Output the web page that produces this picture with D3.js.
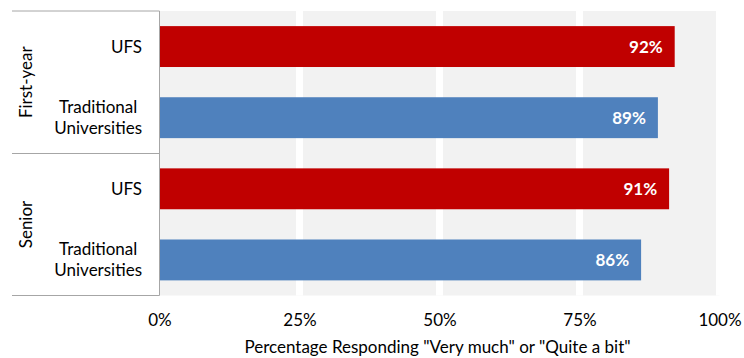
<!DOCTYPE html>
<html>
<head>
<meta charset="utf-8">
<script src="https://cdn.jsdelivr.net/npm/d3@7"></script>
<style>
  html, body { margin: 0; padding: 0; background: #fff; }
  svg { display: block; font-family: Lato, "Open Sans", sans-serif; }
</style>
</head>
<body>
<svg id="chart" width="744" height="358"></svg>
<script>
// ---- data ----
const groups = ["First-year", "Senior"];
const categories = ["UFS", "Traditional Universities"];
const rowKeys = ["First-year|UFS", "First-year|Traditional Universities", "Senior|UFS", "Senior|Traditional Universities"];
const values = [0.92, 0.89, 0.91, 0.86];
const valueLabels = ["92%", "89%", "91%", "86%"];
const tickValues = [0, 0.25, 0.5, 0.75, 1];
const tickLabels = ["0%", "25%", "50%", "75%", "100%"];
const axisTitle = 'Percentage Responding "Very much" or "Quite a bit"';
const colors = { "UFS": "#c00000", "Traditional Universities": "#4f81bd" };

// ---- layout ----
const FS = "17px";
const svg = d3.select("#chart");
const plotTop = 11, plotBottom = 295.5;
const x0 = 159.5, x1 = 719.5;
const tableLeft = 12;

const x = d3.scaleLinear().domain([0, 1]).range([x0, x1]);
const y = d3.scaleBand().domain(rowKeys).range([plotTop, plotBottom]).paddingInner(0.425).paddingOuter(0.2125);

// background
svg.append("rect")
  .attr("x", x0).attr("y", plotTop)
  .attr("width", x(1) - x0).attr("height", plotBottom - plotTop)
  .attr("fill", "#f2f2f2");

// gridlines (white, wide)
svg.append("g").selectAll("rect")
  .data(tickValues.filter(d => d > 0))
  .join("rect")
  .attr("x", d => x(d) - 3.5)
  .attr("y", plotTop)
  .attr("width", 7)
  .attr("height", plotBottom - plotTop)
  .attr("fill", "#ffffff");

// bars
const rows = rowKeys.map((k, i) => ({ key: k, group: k.split("|")[0], cat: k.split("|")[1], value: values[i], label: valueLabels[i] }));
svg.append("g").selectAll("rect")
  .data(rows)
  .join("rect")
  .attr("x", x(0))
  .attr("y", d => y(d.key))
  .attr("width", d => x(d.value) - x(0))
  .attr("height", y.bandwidth())
  .attr("fill", d => colors[d.cat]);

// value labels
svg.append("g").selectAll("text")
  .data(rows)
  .join("text")
  .attr("x", d => x(d.value) - 12)
  .attr("y", d => y(d.key) + y.bandwidth() / 2)
  .attr("dy", "0.35em")
  .attr("text-anchor", "end")
  .attr("fill", "#ffffff")
  .attr("font-weight", "bold")
  .attr("font-size", FS)
  .text(d => d.label);

// x axis labels
const xAxis = d3.axisBottom(x).tickValues(tickValues).tickFormat((d, i) => tickLabels[i]).tickSize(0).tickPadding(0);
const xg = svg.append("g").attr("transform", `translate(0, 320)`).call(xAxis);
xg.select(".domain").remove();
xg.selectAll("text").attr("font-size", FS).attr("fill", "#000").attr("font-family", "Lato, sans-serif").attr("y", 0).attr("dy", "0.35em");

// axis title
svg.append("text")
  .attr("x", (x0 + x1) / 2 - 2)
  .attr("y", 347)
  .attr("dy", "0.35em")
  .attr("text-anchor", "middle")
  .attr("font-size", FS)
  .attr("fill", "#000")
  .text(axisTitle);

// label table borders
const border = svg.append("g").attr("stroke", "#a6a6a6").attr("stroke-width", 1).attr("fill", "none");
const midLine = Math.round(plotTop + (plotBottom - plotTop) / 2) + 0.5;
border.append("line").attr("x1", tableLeft).attr("x2", x0).attr("y1", plotTop).attr("y2", plotTop);
border.append("line").attr("x1", tableLeft).attr("x2", x0).attr("y1", midLine).attr("y2", midLine);
border.append("line").attr("x1", tableLeft).attr("x2", x0).attr("y1", plotBottom).attr("y2", plotBottom);
border.append("line").attr("x1", x0).attr("x2", x0).attr("y1", plotTop).attr("y2", plotBottom);

// group labels (rotated)
const groupCenters = [(plotTop + midLine) / 2, (midLine + plotBottom) / 2];
svg.append("g").selectAll("text")
  .data(groups)
  .join("text")
  .attr("transform", (d, i) => `translate(26, ${groupCenters[i]}) rotate(-90)`)
  .attr("dy", "0.35em")
  .attr("text-anchor", "middle")
  .attr("font-size", FS)
  .attr("fill", "#000")
  .text(d => d);

// category labels
const catG = svg.append("g");
rows.forEach(r => {
  const words = r.cat.split(" ");
  const cy = y(r.key) + y.bandwidth() / 2;
  const lh = 21;
  if (words.length === 1) {
    catG.append("text").attr("x", 142).attr("y", cy).attr("dy", "0.35em")
      .attr("text-anchor", "end").attr("font-size", FS).attr("fill", "#000").text(r.cat);
  } else {
    const t = catG.append("text").attr("font-size", FS).attr("fill", "#000").attr("text-anchor", "middle");
    const spans = words.map((w, i) => t.append("tspan").attr("y", cy + (i - (words.length - 1) / 2) * lh).attr("dy", "0.35em").text(w));
    let maxW = 0;
    spans.forEach(s => { maxW = Math.max(maxW, s.node().getComputedTextLength()); });
    spans.forEach(s => s.attr("x", 142 - maxW / 2));
  }
});
</script>
</body>
</html>
